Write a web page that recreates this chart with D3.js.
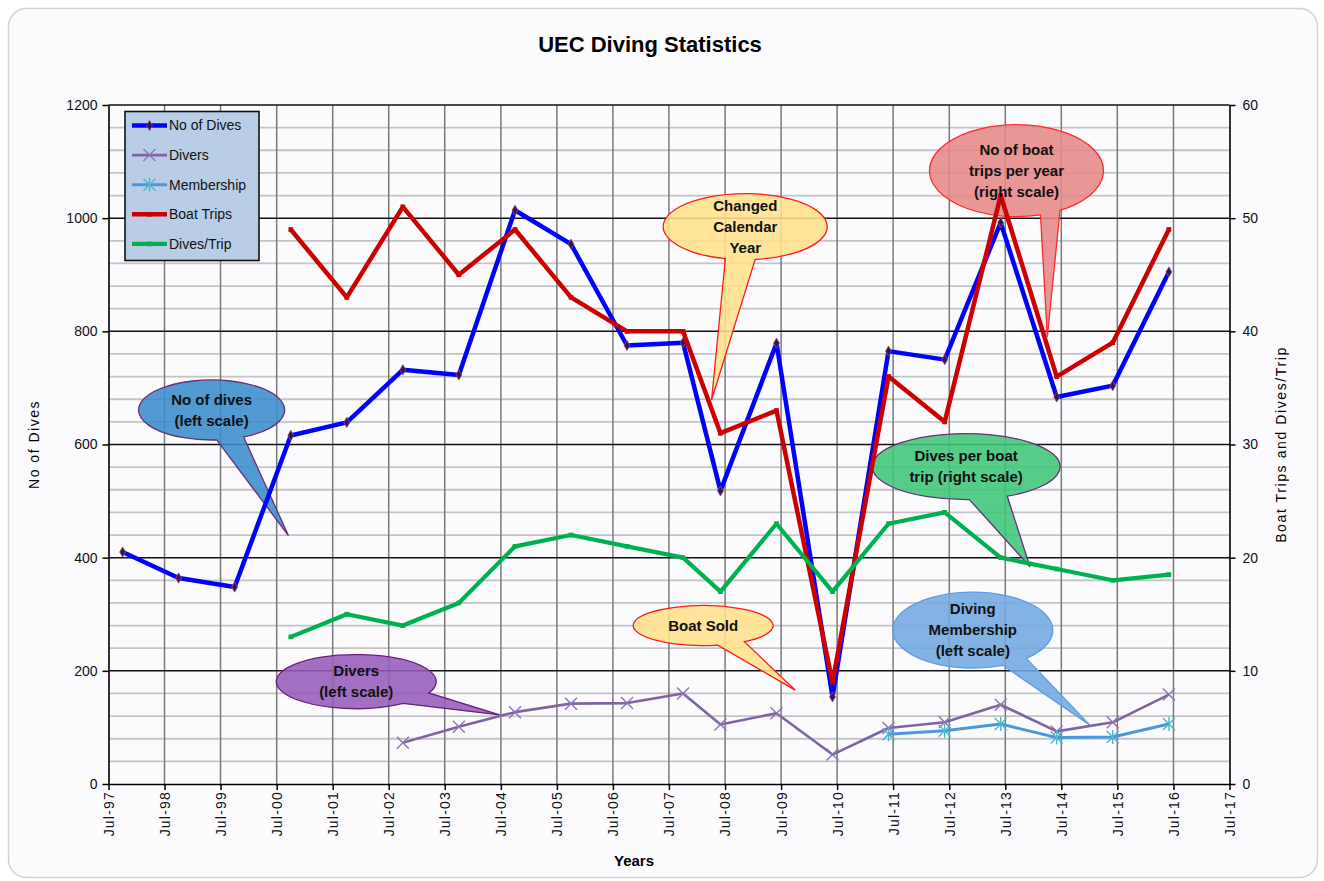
<!DOCTYPE html>
<html>
<head>
<meta charset="utf-8">
<script src="https://cdn.jsdelivr.net/npm/d3@7"></script>
<style>
  body { margin: 0; background: #fff; }
  text { font-family: "Liberation Sans", Arial, sans-serif; }
</style>
</head>
<body>
<svg id="chart" width="1324" height="881"></svg>
<script>
// data (one value per season, null = no data)
var dates = ["1997-10-01","1998-10-01","1999-10-01","2000-10-01","2001-10-01","2002-10-01",
  "2003-10-01","2004-10-01","2005-10-01","2006-10-01","2007-10-01","2008-06-01","2009-06-01",
  "2010-06-01","2011-06-01","2012-06-01","2013-06-01","2014-06-01","2015-06-01","2016-06-01"];
var noOfDives  = [410,364,348,616,639,732,723,1014,954,775,780,518,779,154,765,750,992,684,704,905];
var divers     = [null,null,null,null,null,73,101,127,142,143,160,105,125,52,99,109,140,93,109,158];
var membership = [null,null,null,null,null,null,null,null,null,null,null,null,null,null,88,94,106,82,83,106];
var boatTrips  = [null,null,null,49,43,51,45,49,43,40,40,31,33,9,36,32,52,36,39,49];
var divesTrip  = [null,null,null,13,15,14,16,21,22,21,20,17,23,17,23,24,20,19,18,18.5];

var tickYears  = d3.range(1997, 2018);
var leftTicks  = d3.range(0, 1201, 200);
var rightTicks = d3.range(0, 61, 10);

// callouts: centre in (year, left-scale value), tip likewise
var callouts = [
  {lines:["No of dives","(left scale)"], cx:1999.34, cy:661, rx:73, ry:30, a1:64, a2:86, tx:2000.71, ty:439, fill:"#3a8dcc", stroke:"#6d2d78"},
  {lines:["Changed","Calendar","Year"], cx:2008.86, cy:985, rx:82, ry:33, a1:83, a2:104, tx:2008.26, ty:679, fill:"#ffe08c", stroke:"#ff1a1a"},
  {lines:["No of boat","trips per year","(right scale)"], cx:2013.70, cy:1084, rx:87, ry:46, a1:60, a2:74, tx:2014.25, ty:790, fill:"#e68787", stroke:"#ff2a2a"},
  {lines:["Dives per boat","trip (right scale)"], cx:2012.80, cy:561, rx:94, ry:33, a1:64, a2:88, tx:2013.94, ty:384, fill:"#3ec679", stroke:"#6d2d78"},
  {lines:["Diving","Membership","(left scale)"], cx:2012.92, cy:272, rx:80, ry:38, a1:48, a2:68, tx:2015.01, ty:104, fill:"#72a8e0", stroke:"#5f9ee0"},
  {lines:["Divers","(left scale)"], cx:2001.92, cy:181, rx:80, ry:27, a1:25, a2:54, tx:2004.48, ty:122, fill:"#955bbb", stroke:"#6a1f78"},
  {lines:["Boat Sold"], cx:2008.11, cy:280, rx:70, ry:20, a1:54, a2:78, tx:2009.75, ty:166, fill:"#ffe08c", stroke:"#ff1a1a"}
];

var svg = d3.select("#chart");
var plot = {left: 108.5, right: 1229.5, top: 105, bottom: 784};

var parse = d3.timeParse("%Y-%m-%d");
var x = d3.scaleTime()
  .domain([new Date(1997, 6, 1), new Date(2017, 6, 1)])
  .range([plot.left, plot.right]);
var xYear = d3.scaleLinear().domain([1997.5, 2017.5]).range([plot.left, plot.right]);
var yL = d3.scaleLinear().domain([0, 1200]).range([plot.bottom, plot.top]);
var yR = d3.scaleLinear().domain([0, 60]).range([plot.bottom, plot.top]);

// chart area
svg.append("rect")
  .attr("x", 8.5).attr("y", 8.5).attr("width", 1309).attr("height", 869)
  .attr("rx", 18)
  .attr("fill", "#fbfbfe").attr("stroke", "#d2d2d2").attr("stroke-width", 1.5);

svg.append("text")
  .attr("x", 650).attr("y", 52)
  .attr("text-anchor", "middle")
  .attr("font-size", 22).attr("font-weight", "bold")
  .text("UEC Diving Statistics");

// grid
var grid = svg.append("g");
grid.selectAll("line.minor")
  .data(d3.range(0, 1201, 40).filter(v => v % 200 != 0))
  .join("line")
  .attr("x1", plot.left).attr("x2", plot.right)
  .attr("y1", d => yL(d)).attr("y2", d => yL(d))
  .attr("stroke", "#c4c4c4").attr("stroke-width", 1.8);
grid.selectAll("line.vert")
  .data(tickYears.slice(1, -1))
  .join("line")
  .attr("x1", d => x(new Date(d, 6, 1))).attr("x2", d => x(new Date(d, 6, 1)))
  .attr("y1", plot.top).attr("y2", plot.bottom)
  .attr("stroke", "#7a7a7a").attr("stroke-width", 1.5);
grid.selectAll("line.major")
  .data(leftTicks.slice(1))
  .join("line")
  .attr("x1", plot.left).attr("x2", plot.right)
  .attr("y1", d => yL(d)).attr("y2", d => yL(d))
  .attr("stroke", "#111").attr("stroke-width", 1.5);

// axes
function styleAxis(g) {
  g.selectAll("path.domain").attr("stroke", "#000").attr("stroke-width", 1.6);
  g.selectAll(".tick line").attr("stroke", "#000").attr("stroke-width", 1.5);
  g.selectAll(".tick text").attr("font-size", 14).attr("fill", "#111")
    .attr("font-family", "'Liberation Sans', Arial, sans-serif");
}
svg.append("g")
  .attr("transform", "translate(" + plot.left + ",0)")
  .call(d3.axisLeft(yL).tickValues(leftTicks).tickFormat(d3.format("d"))
    .tickSize(6).tickSizeOuter(0).tickPadding(5))
  .call(styleAxis);
svg.append("g")
  .attr("transform", "translate(" + plot.right + ",0)")
  .call(d3.axisRight(yR).tickValues(rightTicks).tickFormat(d3.format("d"))
    .tickSize(6).tickSizeOuter(0).tickPadding(7))
  .call(styleAxis);
var xAxis = svg.append("g")
  .attr("transform", "translate(0," + plot.bottom + ")")
  .call(d3.axisBottom(x).tickValues(tickYears.map(yr => new Date(yr, 6, 1)))
    .tickFormat(d3.timeFormat("%b-%y")).tickSize(6).tickSizeOuter(0))
  .call(styleAxis);
xAxis.selectAll(".tick text")
  .attr("transform", "translate(0,7) rotate(-90)")
  .attr("text-anchor", "end")
  .attr("x", 0).attr("y", 0).attr("dy", "0.35em")
  .attr("letter-spacing", 1.2);

svg.append("text")
  .attr("transform", "translate(39," + (plot.top + plot.bottom) / 2 + ") rotate(-90)")
  .attr("text-anchor", "middle").attr("font-size", 14).attr("letter-spacing", 1.5)
  .text("No of Dives");
svg.append("text")
  .attr("transform", "translate(1286," + (plot.top + plot.bottom) / 2 + ") rotate(-90)")
  .attr("text-anchor", "middle").attr("font-size", 14).attr("letter-spacing", 1.6)
  .text("Boat Trips and Dives/Trip");
svg.append("text")
  .attr("x", 634).attr("y", 866)
  .attr("text-anchor", "middle").attr("font-size", 15).attr("font-weight", "bold")
  .text("Years");

// callout shapes (ellipse with a wedge tail)
function calloutPath(c) {
  var cx = xYear(c.cx), cy = yL(c.cy);
  var a1 = c.a1 * Math.PI / 180, a2 = c.a2 * Math.PI / 180;
  var p1 = [cx + c.rx * Math.cos(a1), cy + c.ry * Math.sin(a1)];
  var p2 = [cx + c.rx * Math.cos(a2), cy + c.ry * Math.sin(a2)];
  return "M" + p2 + "A" + c.rx + "," + c.ry + " 0 1 1 " + p1 +
    "L" + xYear(c.tx) + "," + yL(c.ty) + "Z";
}
svg.append("g").selectAll("path")
  .data(callouts)
  .join("path")
  .attr("d", calloutPath)
  .attr("fill", d => d.fill).attr("fill-opacity", 0.88)
  .attr("stroke", d => d.stroke).attr("stroke-width", 1.3);

// series
var series = [
  {name: "No of Dives", values: noOfDives, y: yL, color: "#0000ff", width: 4.5, marker: "diamond"},
  {name: "Divers", values: divers, y: yL, color: "#8064a2", width: 2.6, marker: "x"},
  {name: "Membership", values: membership, y: yL, color: "#4a98dc", width: 3, marker: "star"},
  {name: "Boat Trips", values: boatTrips, y: yR, color: "#cc0000", width: 4.5, marker: "dash"},
  {name: "Dives/Trip", values: divesTrip, y: yR, color: "#00b050", width: 4.2, marker: "dash"}
];

function drawMarker(g, s, px, py) {
  if (s.marker == "diamond") {
    g.append("path").attr("d", d3.symbol(d3.symbolDiamond, 30)())
      .attr("transform", "translate(" + px + "," + py + ")")
      .attr("fill", "#241c5a").attr("stroke", "#b0406a").attr("stroke-width", 0.8);
  } else if (s.marker == "x" || s.marker == "star") {
    var r = 6;
    var col = s.marker == "x" ? "#8f74b6" : "#4bb8d0";
    g.append("path")
      .attr("d", "M" + (px - r) + "," + (py - r) + "L" + (px + r) + "," + (py + r) +
        "M" + (px - r) + "," + (py + r) + "L" + (px + r) + "," + (py - r) +
        (s.marker == "star" ? "M" + px + "," + (py - r - 1) + "L" + px + "," + (py + r + 1) : ""))
      .attr("stroke", col).attr("stroke-width", 1.4).attr("fill", "none");
  } else {
    g.append("path").attr("d", d3.symbol(d3.symbolSquare, 22)())
      .attr("transform", "translate(" + px + "," + py + ")")
      .attr("fill", s.color);
  }
}

var lineG = svg.append("g");
series.forEach(function(s) {
  var pts = dates.map((d, i) => ({date: parse(d), v: s.values[i]}));
  var line = d3.line()
    .defined(d => d.v != null)
    .x(d => x(d.date)).y(d => s.y(d.v));
  lineG.append("path")
    .datum(pts)
    .attr("d", line)
    .attr("fill", "none").attr("stroke", s.color)
    .attr("stroke-width", s.width).attr("stroke-linejoin", "round");
  var mg = lineG.append("g");
  pts.filter(d => d.v != null).forEach(d => drawMarker(mg, s, x(d.date), s.y(d.v)));
});

// callout texts on top
svg.append("g").selectAll("text")
  .data(callouts)
  .join("text")
  .attr("text-anchor", "middle").attr("font-size", 15).attr("font-weight", "bold")
  .attr("fill", "#111")
  .each(function(c) {
    var t = d3.select(this);
    c.lines.forEach(function(l, i) {
      t.append("tspan")
        .attr("x", xYear(c.cx))
        .attr("y", yL(c.cy) + (i - (c.lines.length - 1) / 2) * 21)
        .attr("dy", "0.35em")
        .text(l);
    });
  });

// legend
var leg = svg.append("g").attr("transform", "translate(125,111.5)");
leg.append("rect").attr("width", 134).attr("height", 149)
  .attr("fill", "#b9cde6").attr("stroke", "#111").attr("stroke-width", 1.6);
series.forEach(function(s, i) {
  var ly = 14 + i * 29.6;
  var g = leg.append("g");
  g.append("line").attr("x1", 7).attr("x2", 42).attr("y1", ly).attr("y2", ly)
    .attr("stroke", s.color).attr("stroke-width", s.width);
  drawMarker(g, s, 24.5, ly);
  g.append("text").attr("x", 44).attr("y", ly).attr("dy", "0.35em")
    .attr("font-size", 14).attr("fill", "#111").text(s.name);
});
</script>
</body>
</html>
